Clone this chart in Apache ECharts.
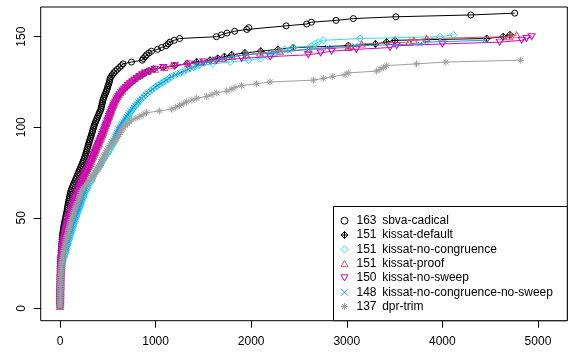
<!DOCTYPE html>
<html>
<head>
<meta charset="utf-8">
<script src="https://cdn.jsdelivr.net/npm/echarts@6/dist/echarts.min.js"></script>
<style>
  html, body { margin: 0; padding: 0; background: #fff; }
  #chart { width: 574px; height: 354px; }
</style>
</head>
<body>
<div id="chart"></div>
<script>
// Solve times in seconds, sorted ascending: the k-th entry is when the k-th instance was solved.
const timesSbvaCadical = [
  0, 0, 0.5, 0.8, 1, 1.2, 1.5, 1.8, 2, 2.3,
  2.6, 2.9, 3.2, 3.5, 3.8, 4.1, 4.4, 4.7, 5, 5.4,
  6, 6.5, 7, 8, 9, 10, 11, 12, 13, 14,
  15, 16, 17, 18, 19, 20, 21, 22, 24, 26,
  28, 30, 33, 36, 39, 42, 46, 50, 54, 58,
  62, 66, 70, 74, 77, 80, 83, 86, 90, 94,
  98, 102, 106, 110, 116, 122, 130, 138, 146, 154,
  162, 170, 178, 186, 194, 202, 210, 218, 226, 234,
  241, 248, 255, 262, 268, 274, 279, 284, 290, 295,
  300, 306, 312, 318, 324, 330, 336, 341, 346, 352,
  358, 365, 372, 380, 389, 396, 404, 412, 420, 428,
  432, 436, 441, 445, 450, 456, 463, 470, 478, 486,
  492, 498, 504, 510, 516, 520, 525, 536, 548, 562,
  580, 600, 622, 642, 660, 748, 860, 872, 890, 905,
  930, 957, 1020, 1060, 1110, 1130, 1150, 1195, 1252, 1636,
  1688, 1747, 1827, 1955, 1975, 2366, 2580, 2630, 2888, 3069, 3514, 4297, 4757
];
const timesKissatDefault = [
  0, 0.3, 0.6, 1, 1.3, 1.6, 2, 2.3, 2.6, 3,
  3.3, 3.6, 4, 4.4, 4.8, 5.2, 5.6, 6, 6.5, 7,
  7.5, 8, 9, 10, 11, 12, 13, 14, 16, 18,
  20, 22, 24, 26, 28, 31, 34, 37, 41, 45,
  49, 53, 57, 62, 67, 72, 77, 82, 87, 93,
  99, 105, 111, 117, 123, 129, 135, 141, 147, 153,
  160, 167, 174, 181, 188, 196, 204, 212, 220, 228,
  236, 244, 252, 261, 270, 279, 288, 297, 306, 315,
  323, 331, 339, 347, 355, 363, 371, 379, 387, 395,
  403, 411, 419, 427, 435, 443, 451, 459, 466, 473,
  480, 487, 494, 501, 508, 515, 522, 529, 536, 543,
  550, 558, 566, 575, 585, 596, 608, 622, 637, 652,
  670, 690, 710, 730, 750, 775, 800, 830, 860, 890,
  930, 980, 1080, 1200, 1330, 1430, 1569, 1650, 1720, 1796,
  1935, 2100, 2280, 2440, 3015, 3300, 3417, 3504, 4463, 4637, 4707
];
const timesKissatNoCongruence = [
  0, 0.3, 0.6, 1, 1.4, 1.8, 2.2, 2.6, 3, 3.5,
  4, 4.5, 5, 5.6, 6.3, 7, 8, 9.5, 11, 13,
  15, 17, 20, 23, 27, 31, 36, 41, 46, 52,
  58, 63, 68, 73, 78, 83, 88, 94, 100, 106,
  112, 118, 124, 130, 136, 142, 148, 154, 160, 166,
  172, 178, 185, 192, 199, 206, 213, 220, 227, 234,
  241, 248, 256, 264, 272, 281, 290, 300, 310, 320,
  330, 340, 350, 360, 370, 380, 392, 404, 416, 428,
  440, 452, 464, 476, 488, 500, 512, 524, 536, 548,
  558, 567, 576, 584, 592, 600, 608, 616, 624, 632,
  645, 658, 671, 684, 697, 710, 723, 736, 749, 762,
  778, 794, 810, 826, 842, 860, 880, 900, 922, 944,
  968, 994, 1022, 1052, 1082, 1112, 1140, 1168, 1210, 1260,
  1300, 1342, 1400, 1450, 1600, 1780, 1970, 2100, 2180, 2230,
  2260, 2301, 2353, 2440, 2632, 2667, 2700, 2755, 3138, 3975, 4114
];
const timesKissatProof = [
  0, 0.2, 0.5, 0.9, 1.2, 1.5, 1.9, 2.2, 2.5, 2.9,
  3.2, 3.5, 3.9, 4.3, 4.7, 5.1, 5.5, 6, 6.4, 6.9,
  7.4, 8, 8.8, 9.6, 10.5, 11.5, 12.5, 14, 15.5, 17,
  19, 21, 23, 25, 27, 30, 33, 36, 40, 44,
  48, 52, 56, 61, 66, 71, 76, 81, 86, 92,
  98, 104, 110, 116, 122, 128, 134, 140, 146, 152,
  159, 166, 173, 180, 187, 195, 203, 211, 219, 227,
  235, 243, 251, 260, 269, 278, 287, 296, 305, 314,
  322, 330, 338, 346, 354, 362, 370, 378, 386, 394,
  402, 410, 418, 426, 434, 441, 448, 455, 462, 469,
  476, 483, 490, 497, 504, 511, 518, 525, 532, 539,
  546, 554, 562, 570, 579, 589, 600, 613, 628, 644,
  650, 668, 688, 708, 730, 752, 775, 800, 830, 860,
  920, 994, 1090, 1168, 1342, 1482, 1600, 1700, 1800, 1950,
  2092, 2300, 2600, 3015, 3033, 3156, 3654, 3700, 3835, 4700, 4777
];
const timesKissatNoSweep = [
  0, 0.3, 0.6, 0.9, 1.2, 1.6, 2, 2.4, 2.8, 3.2,
  3.6, 4, 4.4, 4.8, 5.2, 5.7, 6.2, 6.7, 7.2, 7.8,
  8.4, 9, 10, 11, 12, 13, 14, 15.5, 17, 19,
  21, 23, 25, 27, 29, 32, 35, 39, 43, 47,
  51, 55, 59, 63, 68, 73, 78, 83, 88, 94,
  100, 106, 112, 118, 124, 130, 136, 142, 148, 154,
  161, 168, 175, 182, 189, 197, 205, 213, 221, 229,
  237, 245, 253, 262, 271, 280, 289, 298, 307, 316,
  324, 332, 340, 348, 356, 364, 372, 380, 388, 396,
  404, 412, 420, 428, 436, 444, 452, 460, 467, 474,
  481, 488, 495, 502, 509, 516, 523, 530, 538, 546,
  554, 562, 571, 580, 590, 600, 612, 625, 640, 656,
  672, 692, 712, 734, 756, 780, 806, 834, 864, 896,
  940, 990, 1080, 1200, 1350, 1500, 1640, 1900, 2200, 2597,
  2727, 2842, 3100, 3452, 3522, 4000, 4600, 4830, 4880, 4934
];
const timesKissatNoCongruenceNoSweep = [
  0, 0.2, 0.5, 0.8, 1.1, 1.5, 1.9, 2.3, 2.7, 3.2,
  3.7, 4.2, 4.8, 5.4, 6, 6.8, 7.6, 8.6, 10, 12,
  14, 16, 18, 20, 22, 26, 31, 36, 42, 48,
  54, 60, 65, 70, 75, 80, 85, 90, 95, 100,
  106, 112, 118, 124, 130, 135, 140, 147, 154, 161,
  168, 175, 182, 189, 196, 204, 210, 216, 223, 230,
  236, 242, 248, 254, 260, 266, 272, 284, 296, 308,
  320, 332, 344, 356, 368, 380, 390, 400, 410, 420,
  430, 440, 450, 460, 470, 480, 490, 500, 510, 520,
  530, 541, 552, 563, 574, 585, 593, 600, 607, 615,
  628, 641, 654, 667, 680, 694, 708, 722, 736, 750,
  766, 782, 798, 814, 830, 852, 874, 896, 920, 944,
  968, 994, 1022, 1052, 1082, 1112, 1140, 1168, 1210, 1255,
  1300, 1342, 1390, 1436, 1482, 1550, 1640, 1720, 1800, 1950,
  2200, 2400, 2600, 2800, 3086, 3766, 3835, 4446
];
const timesDprTrim = [
  0, 0.5, 1, 1.5, 2, 2.4, 2.8, 3.2, 3.6, 4,
  4.4, 4.8, 5.2, 5.6, 6, 6.8, 7.6, 8.4, 9.2, 10,
  11.5, 13, 14.5, 16, 18, 21, 24, 28, 32, 35,
  38, 40, 44, 48, 52, 56, 60, 65, 70, 75,
  80, 85, 89, 94, 99, 104, 108, 113, 119, 125,
  130, 135, 141, 148, 154, 160, 168, 177, 186, 195,
  201, 207, 213, 219, 225, 240, 256, 272, 288, 304,
  320, 333, 346, 359, 372, 385, 398, 411, 420, 429,
  438, 447, 456, 465, 474, 482, 488, 503, 518, 533,
  548, 563, 578, 593, 607, 620, 630, 640, 650, 660,
  682, 705, 728, 750, 793, 836, 870, 905, 1040, 1168,
  1210, 1250, 1290, 1325, 1380, 1430, 1535, 1590, 1640, 1744,
  1790, 1830, 1900, 2057, 2197, 2650, 2755, 2850, 2981, 3015,
  3313, 3347, 3382, 3417, 3731, 4037, 4819
];

const solverNames = [
  'sbva-cadical', 'kissat-default', 'kissat-no-congruence', 'kissat-proof',
  'kissat-no-sweep', 'kissat-no-congruence-no-sweep', 'dpr-trim'
];
const solverTimes = [
  timesSbvaCadical, timesKissatDefault, timesKissatNoCongruence, timesKissatProof,
  timesKissatNoSweep, timesKissatNoCongruenceNoSweep, timesDprTrim
];
const xTicks = [0, 1000, 2000, 3000, 4000, 5000];
const yTicks = [0, 50, 100, 150];

// R-style plotting symbols (open circle, diamond-plus, diamond, triangles, cross, asterisk)
const marks = [
  { color: '#000000', symbol: 'circle', size: 6 },
  { color: '#000000', symbol: 'path://M5,0L10,5L5,10L0,5Z M5,0L5,10 M0,5L10,5', size: 7 },
  { color: '#28E2E5', symbol: 'path://M5,0L10,5L5,10L0,5Z', size: 7 },
  { color: '#DF536B', symbol: 'path://M5,0L10,8.66L0,8.66Z', size: [7, 6] },
  { color: '#CD0BBC', symbol: 'path://M0,0L10,0L5,8.66Z', size: [7, 6] },
  { color: '#2297E6', symbol: 'path://M0,0L10,10M10,0L0,10', size: 5 },
  { color: '#9E9E9E', symbol: 'path://M0,5L10,5M5,0L5,10M1.46,1.46L8.54,8.54M8.54,1.46L1.46,8.54', size: 7 }
];

const font = 'Liberation Sans, Arial, Helvetica, sans-serif';
const solvedCount = {};
solverNames.forEach((n, i) => { solvedCount[n] = solverTimes[i].length; });

const series = solverNames.map((name, i) => ({
  name: name,
  type: 'line',
  data: solverTimes[i].map((t, k) => [t, k + 1]),
  symbol: marks[i].symbol,
  symbolSize: marks[i].size,
  showAllSymbol: true,
  itemStyle: { color: 'transparent', borderColor: marks[i].color, borderWidth: 1 },
  lineStyle: { color: marks[i].color, width: 1 },
  emphasis: { disabled: true },
  animation: false,
  z: 2 + i * 0.01
}));

const plainNumber = v => String(v);

const chart = echarts.init(document.getElementById('chart'), null, { renderer: 'canvas' });
chart.setOption({
  animation: false,
  backgroundColor: '#ffffff',
  grid: {
    left: 40.7, right: 6.7, top: 7, bottom: 33.3,
    show: true, borderColor: '#000', borderWidth: 1, backgroundColor: 'transparent'
  },
  xAxis: {
    type: 'value', min: -202, max: 5307,
    axisLine: { show: false, onZero: false },
    splitLine: { show: false },
    axisTick: { show: true, length: 7, customValues: xTicks, lineStyle: { color: '#000', width: 1 } },
    axisLabel: { customValues: xTicks, formatter: plainNumber, margin: 15, color: '#000', fontSize: 12, fontFamily: font }
  },
  yAxis: {
    type: 'value', min: -6.85, max: 166.4,
    axisLine: { show: false, onZero: false },
    splitLine: { show: false },
    axisTick: { show: true, length: 7, customValues: yTicks, lineStyle: { color: '#000', width: 1 } },
    axisLabel: { customValues: yTicks, formatter: plainNumber, rotate: 90, margin: 13, color: '#000', fontSize: 12, fontFamily: font }
  },
  graphic: [{
    type: 'rect', z: 10,
    shape: { x: 333.5, y: 206.5, width: 233.8, height: 114.2 },
    style: { fill: '#fff', stroke: '#000', lineWidth: 1 }
  }],
  legend: {
    orient: 'vertical', left: 340.5, top: 213.7, padding: 0, itemGap: 0.3,
    itemWidth: 7, itemHeight: 7, selectedMode: false, z: 20,
    data: solverNames.map((n, i) => ({
      name: n,
      icon: marks[i].symbol,
      itemStyle: { color: 'transparent', borderColor: marks[i].color, borderWidth: 1 }
    })),
    formatter: name => '{p|}{n|' + solvedCount[name] + '}{s|' + name + '}',
    textStyle: {
      fontFamily: font, fontSize: 12, color: '#000', lineHeight: 14,
      rich: {
        p: { width: 3.5, fontSize: 12, fontFamily: font, lineHeight: 14 },
        n: { width: 25.7, fontSize: 12, fontFamily: font, color: '#000', lineHeight: 14 },
        s: { fontSize: 12, fontFamily: font, color: '#000', lineHeight: 14 }
      }
    }
  },
  series: series
});
</script>
</body>
</html>
